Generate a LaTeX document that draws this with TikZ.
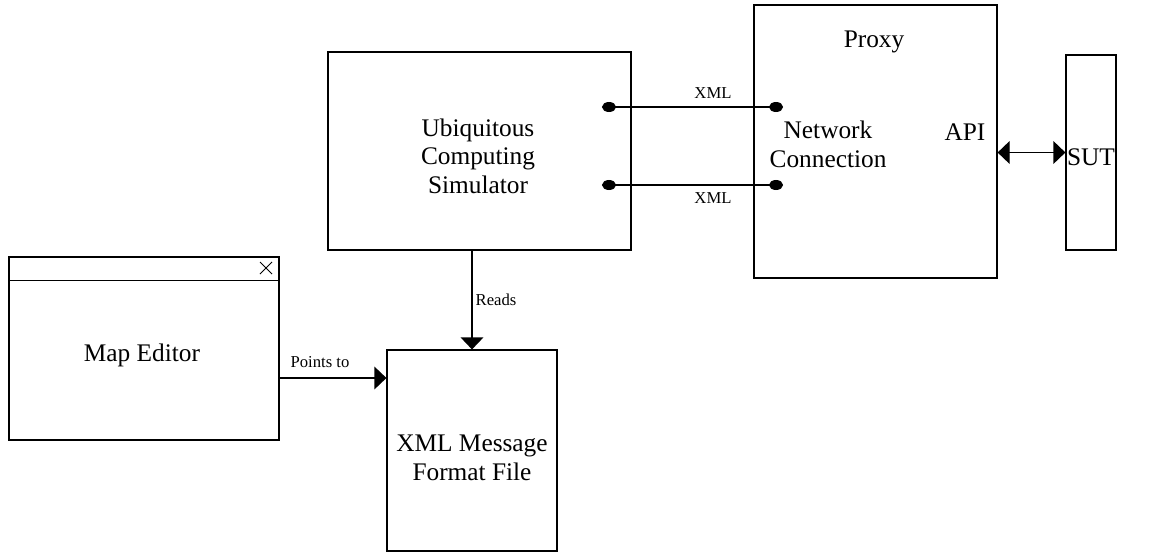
\documentclass[tikz,border=0pt]{standalone}
\usepackage{fontspec}
\setmainfont{Liberation Serif}
\usetikzlibrary{arrows.meta}

\begin{document}
\begin{tikzpicture}[x=0.75pt,y=-0.75pt,
		box/.style={draw=black,line width=0.9pt,rectangle,inner sep=0pt},
		txt/.style={font=\fontsize{19}{21.5}\selectfont,align=center,inner sep=0pt},
		lbl/.style={font=\fontsize{12.5}{14}\selectfont,inner sep=0pt},
		conn/.style={line width=0.9pt},
		tri/.style={conn,-{Triangle[length=9pt,width=17pt]}},
		dots/.style={conn,{Circle[length=10.5pt,width=7.5pt]}-{Circle[length=10.5pt,width=7.5pt]}}]
		\useasboundingbox (0,0) rectangle (1159,553);

		\node[box,minimum width=227.25pt,minimum height=148.5pt] (sim) at (479.5,151){};
		\node[box,minimum width=182.25pt,minimum height=204.75pt] (proxy) at (875.5,141.5){};
		\node[box,minimum width=37.5pt,minimum height=146.25pt] (sut) at (1091,152.5){};
		\node[box,minimum width=202.5pt,minimum height=137.25pt] (map) at (144,348.5){};
		\node[box,minimum width=127.5pt,minimum height=150.75pt] (file) at (472,450.5){};

		\node[txt] (simtext) at (478,156){Ubiquitous\\Computing\\Simulator};
		\node[txt] (proxytext) at (874,42){Proxy};
		\node[txt] (nettext) at (828,144){Network\\Connection};
		\node[txt] (apitext) at (965,132){API};
		\node[txt] (suttext) at (1091,157){SUT};
		\node[txt] (maptext) at (142,355){Map Editor};
		\node[txt] (filetext) at (472,458){XML Message\\Format File};

		% window title bar
		\draw[conn] ([yshift=-18pt]map.north west) -- ([yshift=-18pt]map.north east);
		\draw[line width=0.6pt] (260,262) -- (272,274);
		\draw[line width=0.6pt] (260,274) -- (272,262);

		\coordinate (s1) at (602,107);
		\coordinate (p1) at (783,107);
		\coordinate (s2) at (602,185);
		\coordinate (p2) at (783,185);
		\coordinate (pt) at (0,378);

		\draw[dots] (s1) -- (p1);
		\draw[dots] (s2) -- (p2);
		\node[lbl] (xml1) at (713,93){XML};
		\node[lbl] (xml2) at (713,198){XML};

		\draw[conn,{Triangle[length=9pt,width=17pt]}-{Triangle[length=9pt,width=17pt]}] (sut.west -| proxy.east) -- (sut.west);

		\draw[tri] (sim.south -| file.north) -- (file.north);
		\node[lbl] (reads) at (496,300){Reads};

		\draw[tri] (map.east |- pt) -- (file.west |- pt);
		\node[lbl] (points) at (320,362){Points to};

	\end{tikzpicture}
\end{document}
